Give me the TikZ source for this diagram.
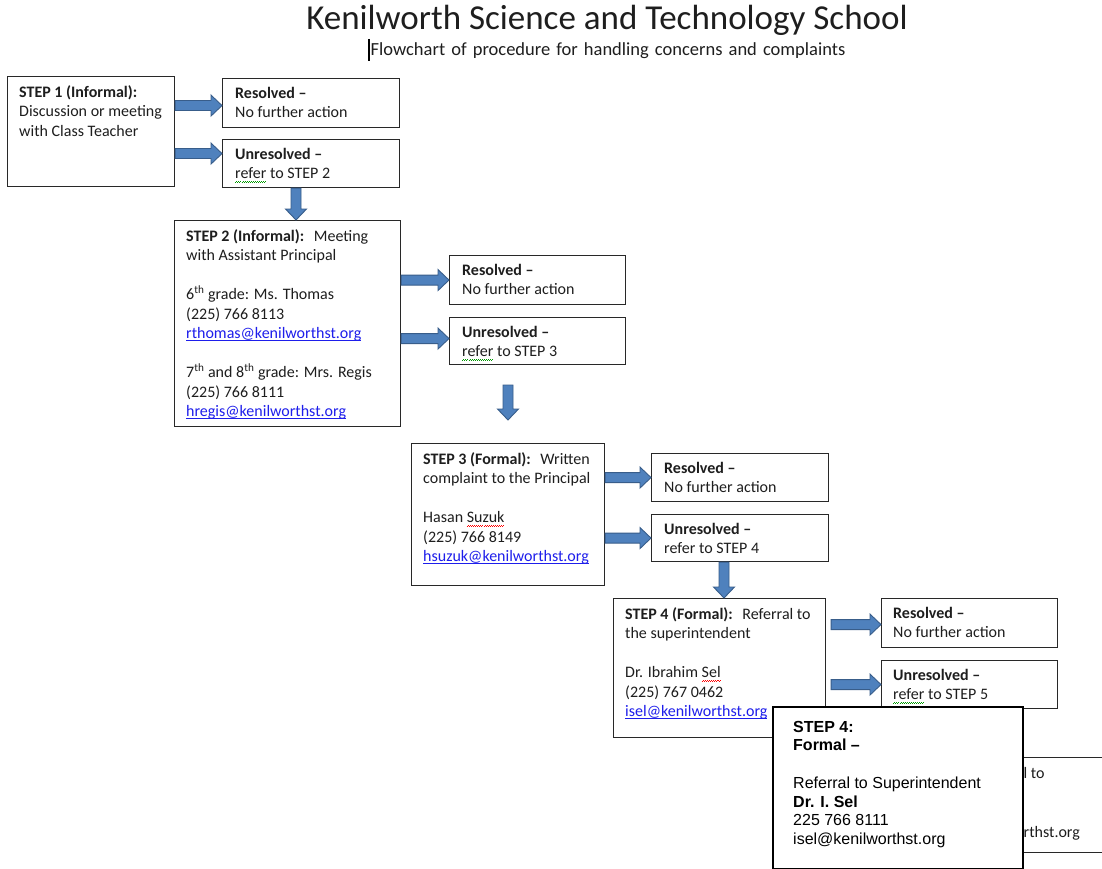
\documentclass[tikz,border=0pt]{standalone}
\usepackage{fontspec}
\setmainfont{Carlito}
\newfontfamily\arialf{Liberation Sans}
\usetikzlibrary{calc}
\definecolor{arrowfill}{RGB}{79,129,189}
\definecolor{arrowline}{RGB}{56,93,138}
\definecolor{linkblue}{RGB}{30,30,235}
\definecolor{boxline}{RGB}{40,40,40}
\definecolor{txtcol}{RGB}{30,30,30}
\newcommand\wavy[2]{\setbox0\hbox{#2}\rlap{\textcolor{#1}{\hbox to \wd0{\xleaders\hbox{\rule[-3.6pt]{1pt}{0.6pt}\rule[-2.8pt]{1pt}{0.6pt}}\hfill}}}\box0\relax}
\newcommand\lnk[1]{\textcolor{linkblue}{\setbox0\hbox{#1}\rlap{\rule[-2pt]{\wd0}{0.7pt}}\box0\relax}}
\newcommand\widesp[1]{{\spaceskip=6.1pt\relax #1}}
\tikzset{
  box/.style={draw=boxline, line width=1.1pt, fill=white, anchor=north west, inner sep=0pt},
  txt/.style={anchor=north west, inner sep=0pt, align=left, text=txtcol, font=\fontsize{16}{19.5}\selectfont},
  ptxt/.style={anchor=north west, inner sep=0pt, align=left, text=black, font=\arialf\fontsize{16}{18.7}\selectfont},
  arr/.style={draw=arrowline, fill=arrowfill, line width=0.9pt, line join=miter},
  blkh/.style={arr, to path={let \p1=(\tikztostart), \p2=(\tikztotarget) in
     (\x1,\y1+5pt) -- (\x2-11pt,\y1+5pt) -- (\x2-11pt,\y1+10.5pt) -- (\x2,\y1)
     -- (\x2-11pt,\y1-10.5pt) -- (\x2-11pt,\y1-5pt) -- (\x1,\y1-5pt) -- cycle}},
  blkv/.style={arr, to path={let \p1=(\tikztostart), \p2=(\tikztotarget) in
     (\x1-5pt,\y1) -- (\x1-5pt,\y2+11pt) -- (\x1-10.5pt,\y2+11pt) -- (\x1,\y2)
     -- (\x1+10.5pt,\y2+11pt) -- (\x1+5pt,\y2+11pt) -- (\x1+5pt,\y1) -- cycle}}
}
\begin{document}
\begin{tikzpicture}[x=1pt,y=-1pt]
\clip (0,0) rectangle (1102,869);
\fill[white] (0,0) rectangle (1102,869);

% title
\node[anchor=base, inner sep=0pt, text=txtcol, font=\fontsize{35}{40}\selectfont] (title) at (607,30) {Kenilworth Science and Technology School};
\node[anchor=base west, inner sep=0pt, text=txtcol, font=\fontsize{18.5}{22}\selectfont] (sub) at (370.5,55.5) {\widesp{Flowchart of procedure for handling concerns and complaints}};
\draw[line width=1.5pt, black] (369,39) -- (369,61);

% step 1
\node[box, minimum width=167, minimum height=110] (s1) at (7,76) {};
\node[txt] (s1t) at ([shift={(12,7.4)}]s1.north west) {\strut\textbf{STEP 1 (Informal):}\\Discussion or meeting\\with Class Teacher};
\node[box, minimum width=177, minimum height=49] (r1) at (222,78) {};
\node[txt] (r1t) at ([shift={(13,6.4)}]r1.north west) {\strut\textbf{Resolved –}\\No further action};
\node[box, minimum width=177, minimum height=48] (u1) at (222,139) {};
\node[txt] (u1t) at ([shift={(13,6.4)}]u1.north west) {\strut\textbf{Unresolved –}\\\wavy{green!60!black}{refer} to STEP 2};

% step 2
\node[box, minimum width=226, minimum height=206] (s2) at (174,220) {};
\node[txt] (s2t) at ([shift={(12,7.4)}]s2.north west) {\strut\textbf{STEP 2 (Informal):}\hspace{0.6em}Meeting\\with Assistant Principal\\[19.5pt]6\textsuperscript{th} grade: Ms. Thomas\\(225) 766 8113\\\lnk{rthomas@kenilworthst.org}\\[19.5pt]7\textsuperscript{th} and 8\textsuperscript{th} grade: Mrs. Regis\\(225) 766 8111\\\lnk{hregis@kenilworthst.org}};
\node[box, minimum width=176, minimum height=49] (r2) at (449,255) {};
\node[txt] (r2t) at ([shift={(13,6.4)}]r2.north west) {\strut\textbf{Resolved –}\\No further action};
\node[box, minimum width=176, minimum height=47] (u2) at (449,317) {};
\node[txt] (u2t) at ([shift={(13,6.4)}]u2.north west) {\strut\textbf{Unresolved –}\\\wavy{green!60!black}{refer} to STEP 3};

% step 3
\node[box, minimum width=193, minimum height=142] (s3) at (411,443) {};
\node[txt] (s3t) at ([shift={(12,7.4)}]s3.north west) {\strut\textbf{STEP 3 (Formal):}\hspace{0.6em}Written\\complaint to the Principal\\[19.5pt]Hasan \wavy{red}{Suzuk}\\(225) 766 8149\\\lnk{hsuzuk@kenilworthst.org}};
\node[box, minimum width=177, minimum height=48] (r3) at (651,453) {};
\node[txt] (r3t) at ([shift={(13,6.4)}]r3.north west) {\strut\textbf{Resolved –}\\No further action};
\node[box, minimum width=177, minimum height=47] (u3) at (651,514) {};
\node[txt] (u3t) at ([shift={(13,6.4)}]u3.north west) {\strut\textbf{Unresolved –}\\refer to STEP 4};

% step 4
\node[box, minimum width=212, minimum height=139] (s4) at (613,598) {};
\node[txt] (s4t) at ([shift={(12,7.4)}]s4.north west) {\strut\textbf{STEP 4 (Formal):}\hspace{0.6em}Referral to\\the superintendent\\[19.5pt]Dr. Ibrahim \wavy{red}{Sel}\\(225) 767 0462\\\lnk{isel@kenilworthst.org}};
\node[box, minimum width=176, minimum height=49] (r4) at (881,598) {};
\node[txt] (r4t) at ([shift={(12,6.4)}]r4.north west) {\strut\textbf{Resolved –}\\No further action};
\node[box, minimum width=176, minimum height=48] (u4) at (881,660) {};
\node[txt] (u4t) at ([shift={(12,6.4)}]u4.north west) {\strut\textbf{Unresolved –}\\\wavy{green!60!black}{refer} to STEP 5};

% partly hidden step 5 box
\node[box, minimum width=240, minimum height=95] (s5) at (880,757) {};
\node[txt, anchor=base west] (s5a) at (1023.5,778) {l to};
\node[txt, anchor=base west] (s5b) at (1023.5,837) {rthst.org};

% horizontal block arrows
\path[blkh] ([yshift=-2.5pt]s1.east |- r1.west) to (r1.west);
\path[blkh] ([yshift=10pt]s1.east |- u1.west) to (u1.west);
\path[blkh] (s2.east |- r2.west) to (r2.west);
\path[blkh] ([yshift=2.5pt]s2.east |- u2.west) to (u2.west);
\path[blkh] (s3.east |- r3.west) to (r3.west);
\path[blkh] (s3.east |- u3.west) to (u3.west);
\path[blkh] ([xshift=5pt,yshift=-1.5pt]s4.east |- r4.west) to (r4.west);
\path[blkh] ([xshift=5pt]s4.east |- u4.west) to (u4.west);

% vertical block arrows
\path[blkv] ([xshift=74pt]u1.south west) to (s2.north);
\coordinate (d2a) at (508,385);
\coordinate (d2b) at (508,420);
\path[blkv] (d2a) to (d2b);
\path[blkv] ([xshift=73pt]u3.south west) to (s4.north);

% overlay box
\node[box, draw=black, line width=1.6pt, minimum width=250, minimum height=162] (p4) at (772,706) {};
\node[ptxt] (p4t) at ([shift={(21,12.9)}]p4.north west) {\strut\textbf{STEP 4:}\\\textbf{Formal –}\\[18.7pt]Referral to Superintendent\\\textbf{Dr. I. Sel}\\225 766 8111\\isel@kenilworthst.org};
\end{tikzpicture}
\end{document}
